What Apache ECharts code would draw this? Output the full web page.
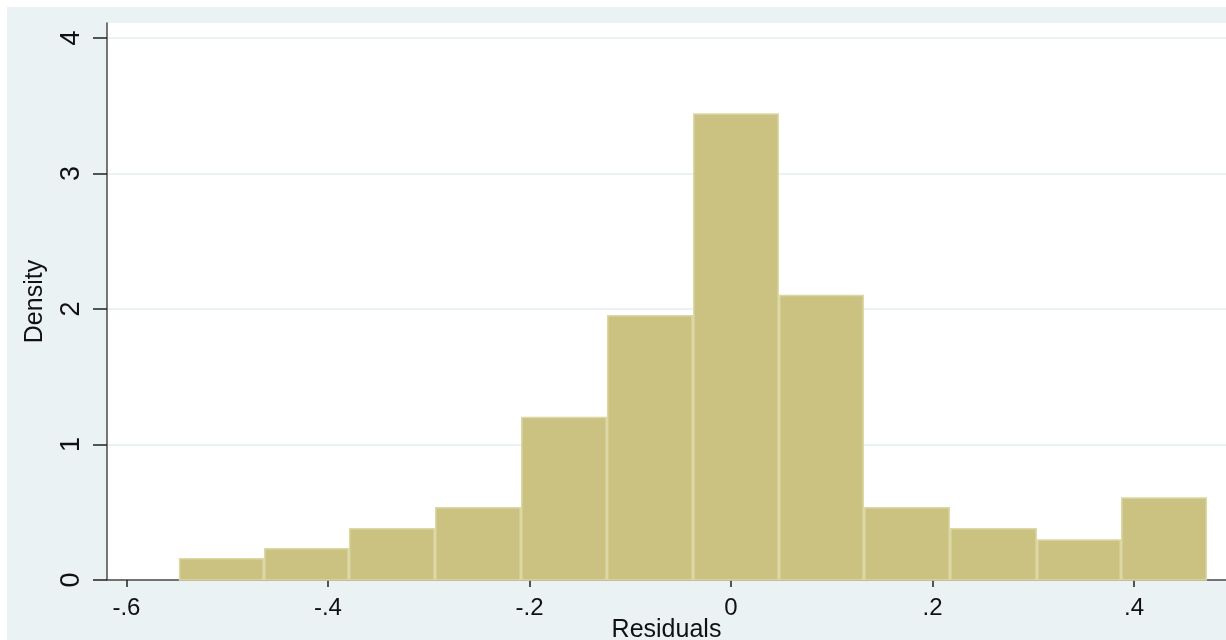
<!DOCTYPE html>
<html>
<head>
<meta charset="utf-8">
<script src="https://cdn.jsdelivr.net/npm/echarts@6/dist/echarts.min.js"></script>
<style>
html,body{margin:0;padding:0;background:#fff;width:1226px;height:640px;overflow:hidden;}
#chart{position:absolute;left:7px;top:7px;width:1219px;height:633px;}
</style>
</head>
<body>
<div id="chart"></div>
<script>
// Histogram bin edges (Residuals) and densities
const binEdges = [-0.548, -0.4635, -0.3792, -0.2938, -0.2084, -0.1231, -0.0377, 0.0476, 0.1320, 0.2174, 0.3037, 0.3871, 0.4725];
const densities = [0.162, 0.236, 0.384, 0.539, 1.205, 1.956, 3.444, 2.106, 0.539, 0.384, 0.30, 0.61];
const xTickValues = [-0.6, -0.4, -0.2, 0, 0.2, 0.4];
const xTickLabels = ['-.6', '-.4', '-.2', '0', '.2', '.4'];
const yTickValues = [0, 1, 2, 3, 4];
const yTickLabels = ['0', '1', '2', '3', '4'];
const xTitle = 'Residuals';
const yTitle = 'Density';

const barData = densities.map((d, i) => [binEdges[i], binEdges[i + 1], d]);

const chart = echarts.init(document.getElementById('chart'), null, {renderer: 'canvas'});
const font = 'Liberation Sans, Arial, sans-serif';
chart.setOption({
  backgroundColor: '#EAF2F3',
  animation: false,
  grid: {
    left: 100, top: 16, right: 0, bottom: 60,
    outerBoundsMode: 'none', containLabel: false,
    show: true, backgroundColor: '#ffffff', borderWidth: 0
  },
  xAxis: {
    type: 'value',
    min: -0.6193, max: 0.4913,
    name: xTitle, nameLocation: 'middle', nameGap: 38, nameMoveOverlap: false,
    nameTextStyle: {fontFamily: font, fontSize: 25, color: '#111', lineHeight: 25},
    axisLine: {show: true, onZero: false, lineStyle: {color: '#4a4a4a', width: 1.5}},
    axisTick: {show: true, length: 7, customValues: xTickValues, lineStyle: {color: '#222', width: 1.5}},
    axisLabel: {
      show: true, customValues: xTickValues, margin: 16,
      fontFamily: font, fontSize: 24, color: '#111',
      formatter: v => {
        const i = xTickValues.findIndex(t => Math.abs(t - v) < 1e-6);
        return i >= 0 ? xTickLabels[i] : '';
      }
    },
    splitLine: {show: false}
  },
  yAxis: {
    type: 'value',
    min: 0, max: 4.111,
    name: yTitle, nameLocation: 'middle', nameGap: 59, nameMoveOverlap: false,
    nameTextStyle: {fontFamily: font, fontSize: 25, color: '#111'},
    axisLine: {show: true, onZero: false, lineStyle: {color: '#4a4a4a', width: 1.5}},
    axisTick: {show: true, length: 14, customValues: yTickValues, lineStyle: {color: '#222', width: 1.5}},
    axisLabel: {
      show: true, customValues: yTickValues, rotate: 90, margin: 22,
      fontFamily: font, fontSize: 27, color: '#111',
      formatter: v => {
        const i = yTickValues.findIndex(t => Math.abs(t - v) < 1e-6);
        return i >= 0 ? yTickLabels[i] : '';
      }
    },
    splitLine: {show: true, lineStyle: {color: '#EAF2F3', width: 2}}
  },
  series: [{
    type: 'custom',
    data: barData,
    encode: {x: [0, 1], y: 2},
    renderItem: function (params, api) {
      const p0 = api.coord([api.value(0), api.value(2)]);
      const p1 = api.coord([api.value(1), 0]);
      return {
        type: 'rect',
        shape: {x: p0[0] + 0.75, y: p0[1] + 0.75, width: p1[0] - p0[0] - 1.5, height: p1[1] - p0[1] - 0.75},
        style: {fill: '#CBC282', stroke: '#DCD8A6', lineWidth: 1.5}
      };
    }
  }]
});
</script>
</body>
</html>
